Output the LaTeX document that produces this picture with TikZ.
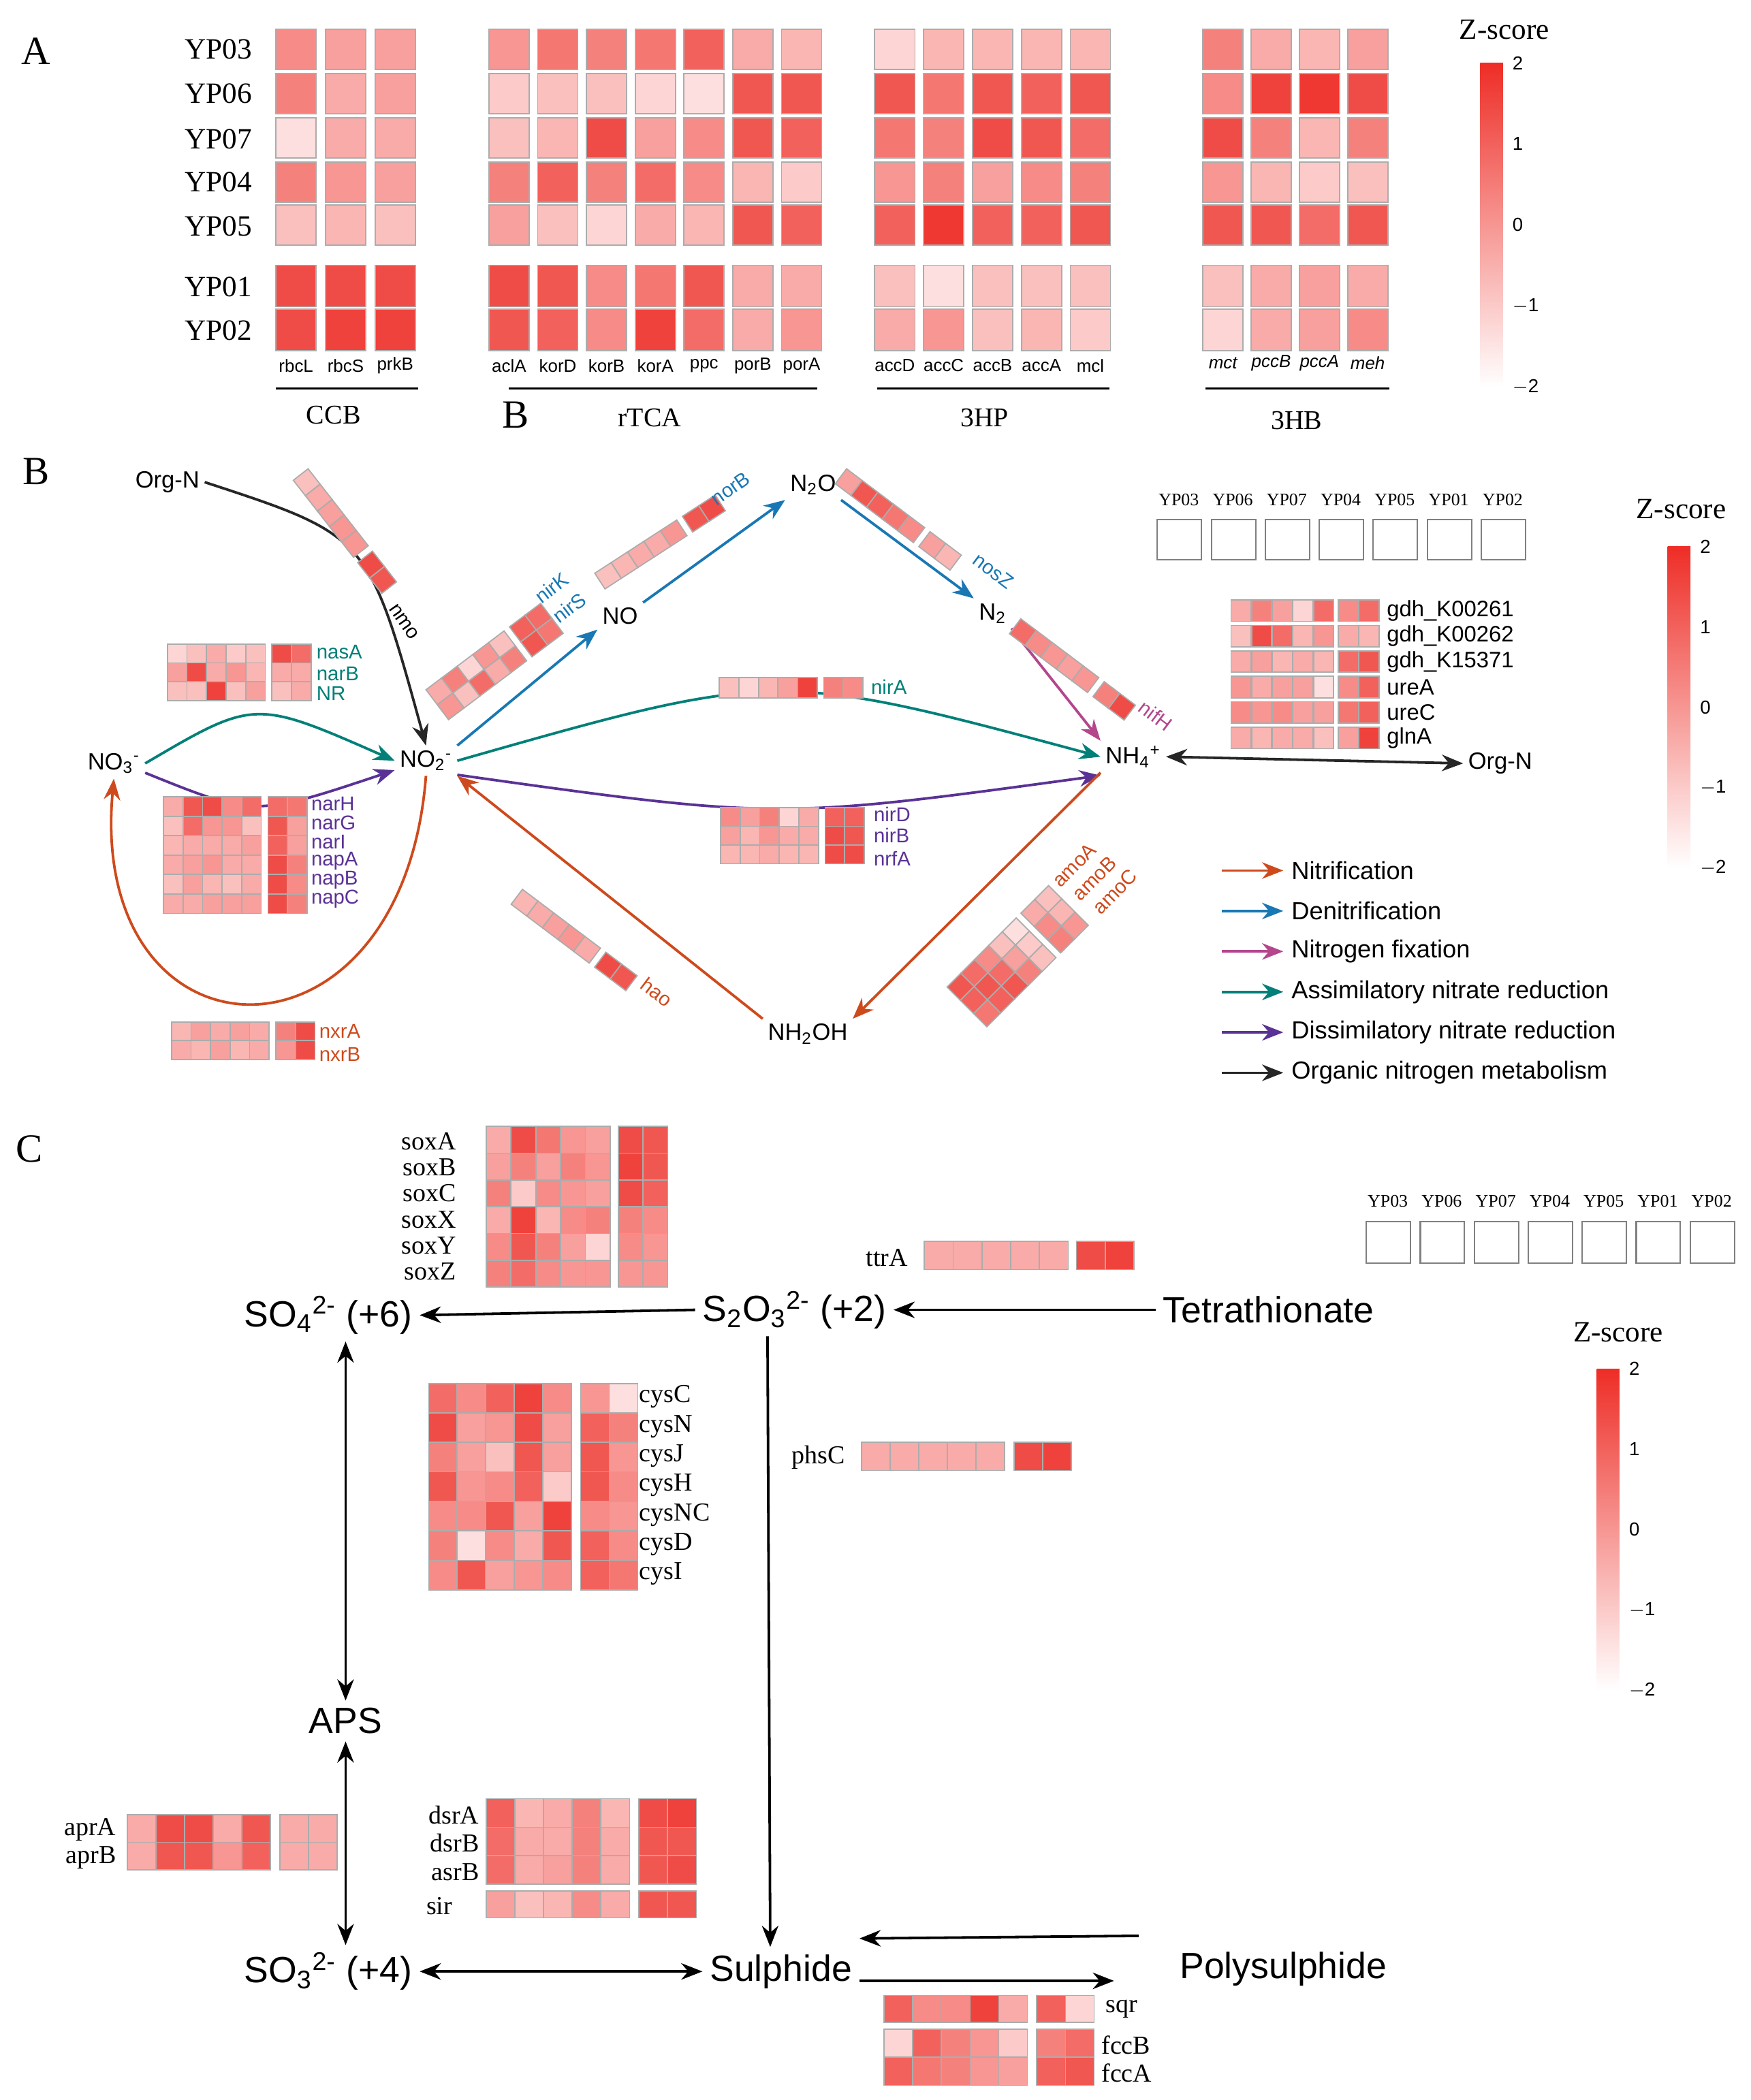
\documentclass[tikz,border=0pt]{standalone}
\usepackage{fontspec}
\setmainfont{Liberation Serif}
\setsansfont{Liberation Sans}
\usetikzlibrary{arrows.meta}
\definecolor{hr}{RGB}{238,45,38}
\definecolor{cor}{RGB}{206,74,28}
\definecolor{cbl}{RGB}{25,120,180}
\definecolor{cmg}{RGB}{180,70,140}
\definecolor{ctl}{RGB}{0,128,120}
\definecolor{cpu}{RGB}{90,50,150}
\newcommand\fs[1]{\fontsize{#1}{#1}\selectfont}
% x y pitch cw ch gap {vals}
\newcommand\hmrow[7]{%
 \foreach \v [count=\i] in {#7} {
   \pgfmathsetmacro\xx{#1+(\i-1)*#3+(\i>5)*#6}
   \fill[hr!\v!white] (\xx,-#2) rectangle ++(#4,-#5);
   \draw[gray!65,line width=0.5pt] (\xx,-#2) rectangle ++(#4,-#5);}}
\newcommand\cbar[3]{% x ytop ybottom
 \shade[bottom color=white,top color=hr] (#1,-#2) rectangle (#1+17,-#3);
 \pgfmathsetmacro\dd{(#3-#2)/4}
 \foreach \t [count=\k from 0] in {2,1,0,$-$1,$-$2}
   \node[anchor=west,font=\sffamily\fs{8}] at (#1+18,-#2-\k*\dd) {\t};}
\begin{document}
\begin{tikzpicture}[x=0.02cm,y=0.02cm,
  arr/.style={line width=1.1pt,-{Stealth[length=9pt,width=7pt]}},
  darr/.style={line width=1.1pt,{Stealth[length=9pt,width=7pt]}-{Stealth[length=9pt,width=7pt]}},
  rowl/.style={font=\fs{12.5}},
  gA/.style={font=\sffamily\fs{7.5}},
  grp/.style={font=\fs{11.5}},
  let/.style={font=\fs{17}},
  nb/.style={font=\sffamily\fs{10},inner sep=2pt},
  gb/.style={font=\sffamily\fs{8.5},anchor=west,inner sep=0pt},
  nc/.style={font=\sffamily\fs{15.5},inner sep=3pt},
  gc/.style={font=\fs{11},inner sep=0pt},
  zs/.style={font=\fs{12.5}},
  ll/.style={font=\sffamily\fs{10.5},anchor=west}]
\useasboundingbox (0,0) rectangle (1307,-1568);
% ================= Panel A
\node[let] at (27,-38) {A};
\node[let] at (385,-310) {B};
\foreach \n/\y in {YP03/37,YP06/70,YP07/104,YP04/136,YP05/169,YP01/214,YP02/247}
  \node[rowl] at (163,-\y) {\n};
% CCB
\hmrow{206}{22}{37}{30}{30}{0}{55,45,45}
\hmrow{206}{55}{37}{30}{30}{0}{60,40,45}
\hmrow{206}{88}{37}{30}{30}{0}{15,40,40}
\hmrow{206}{121}{37}{30}{30}{0}{60,50,45}
\hmrow{206}{153}{37}{30}{30}{0}{30,35,30}
\hmrow{206}{198}{37}{30}{31}{0}{85,85,85}
\hmrow{206}{231}{37}{30}{31}{0}{85,90,90}
% rTCA
\hmrow{365}{22}{36.4}{30}{30}{0}{50,65,60,65,75,40,35}
\hmrow{365}{55}{36.4}{30}{30}{0}{25,30,30,20,15,80,80}
\hmrow{365}{88}{36.4}{30}{30}{0}{30,35,85,45,55,80,75}
\hmrow{365}{121}{36.4}{30}{30}{0}{60,75,60,70,55,35,25}
\hmrow{365}{153}{36.4}{30}{30}{0}{45,30,20,40,35,80,75}
\hmrow{365}{198}{36.4}{30}{31}{0}{85,80,55,65,80,40,40}
\hmrow{365}{231}{36.4}{30}{31}{0}{80,75,55,90,70,40,50}
% 3HP
\hmrow{653}{22}{36.5}{30}{30}{0}{20,35,35,35,35}
\hmrow{653}{55}{36.5}{30}{30}{0}{80,65,80,75,80}
\hmrow{653}{88}{36.5}{30}{30}{0}{65,60,85,80,70}
\hmrow{653}{121}{36.5}{30}{30}{0}{50,60,45,55,60}
\hmrow{653}{153}{36.5}{30}{30}{0}{75,95,75,75,80}
\hmrow{653}{198}{36.5}{30}{31}{0}{30,15,30,30,30}
\hmrow{653}{231}{36.5}{30}{31}{0}{40,50,30,35,25}
% 3HB
\hmrow{898}{22}{36}{30}{30}{0}{60,40,35,45}
\hmrow{898}{55}{36}{30}{30}{0}{55,90,95,85}
\hmrow{898}{88}{36}{30}{30}{0}{85,60,35,60}
\hmrow{898}{121}{36}{30}{30}{0}{50,35,25,30}
\hmrow{898}{153}{36}{30}{30}{0}{80,80,70,80}
\hmrow{898}{198}{36}{30}{31}{0}{30,40,45,40}
\hmrow{898}{231}{36}{30}{31}{0}{20,40,45,55}
\foreach \g [count=\i from 0] in {rbcL,rbcS,prkB} \node[gA] at (221+\i*37,-273) {\g};
\foreach \g [count=\i from 0] in {aclA,korD,korB,korA,ppc,porB,porA} \node[gA] at (380+\i*36.4,-273) {\g};
\foreach \g [count=\i from 0] in {accD,accC,accB,accA,mcl} \node[gA] at (668+\i*36.5,-273) {\g};
\foreach \g [count=\i from 0] in {mct,pccB,pccA,meh} \node[gA,font=\sffamily\itshape\fs{7.5}] at (913+\i*36,-271) {\g};
\draw[line width=0.9pt] (206,-290) -- (312,-290) (380,-290) -- (610,-290) (655,-290) -- (828,-290) (900,-290) -- (1037,-290);
\node[grp] at (249,-310) {CCB};
\node[grp] at (485,-312) {rTCA};
\node[grp] at (735,-312) {3HP};
\node[grp] at (968,-314) {3HB};
\node[zs] at (1123,-22) {Z-score};
\cbar{1105}{47}{289}
% ================= Panel B
\node[let] at (27,-352) {B};
\node[nb] (orgn) at (125,-360) {Org-N};
\node[nb] (no3) at (85,-570) {NO\textsubscript{3}\textsuperscript{-}};
\node[nb] (no2) at (318,-568) {NO\textsubscript{2}\textsuperscript{-}};
\node[nb] (no) at (463,-460) {NO};
\node[nb] (n2o) at (607,-362) {N\textsubscript{2}O};
\node[nb] (n2) at (741,-458) {N\textsubscript{2}};
\node[nb] (nh4) at (846,-565) {NH\textsubscript{4}\textsuperscript{+}};
\node[nb] (nh2oh) at (603,-772) {NH\textsubscript{2}OH};
\node[nb] (orgn2) at (1120,-570) {Org-N};
\draw[arr,black!85] (orgn.east) .. controls (275,-400) .. (no2.north);
\draw[arr,ctl] (no3.east) .. controls (190,-522) .. (no2.west);
\draw[arr,cpu] ([yshift=-4]no3.east) .. controls (190,-610) .. ([yshift=-4]no2.west);
\draw[arr,cbl] (no2.north east) -- (no.south west);
\draw[arr,cbl] (no.north east) -- (n2o.south west);
\draw[arr,cbl] (n2o.south east) -- (n2.north west);
\draw[arr,cmg] (n2.south east) -- (nh4.north west);
\draw[arr,ctl] (no2.east) .. controls (580,-500) .. (nh4.west);
\draw[arr,cpu] ([yshift=-6]no2.east) .. controls (580,-612) .. ([yshift=-8]nh4.west);
\draw[arr,cor] (nh4.south west) -- (nh2oh.north east);
\draw[arr,cor] (nh2oh.north west) -- (no2.south east);
\draw[arr,cor] (no2.south) .. controls (300,-810) and (65,-800) .. (no3.south);
\draw[darr,black!85] (nh4.east) -- (orgn2.west);
% B heatmaps
\hmrow{125}{481}{14.6}{14.6}{14}{5}{20,30,40,25,30,85,70}
\hmrow{125}{495}{14.6}{14.6}{14}{5}{45,85,40,50,35,40,40}
\hmrow{125}{509}{14.6}{14.6}{14}{5}{30,30,90,30,45,30,40}
\node[gb,ctl] at (236,-487) {nasA};
\node[gb,ctl] at (236,-503) {narB};
\node[gb,ctl] at (236,-518) {NR};
\hmrow{122}{595}{14.6}{14.6}{14.5}{5}{40,80,85,55,70,70,65}
\hmrow{122}{609.5}{14.6}{14.6}{14.5}{5}{30,70,50,50,30,80,45}
\hmrow{122}{624}{14.6}{14.6}{14.5}{5}{35,40,40,40,45,75,45}
\hmrow{122}{638.5}{14.6}{14.6}{14.5}{5}{40,45,50,40,40,85,60}
\hmrow{122}{653}{14.6}{14.6}{14.5}{5}{30,45,35,30,40,85,55}
\hmrow{122}{667.5}{14.6}{14.6}{14.5}{5}{40,40,45,45,45,85,60}
\foreach \g [count=\i from 0] in {narH,narG,narI,napA,napB,napC}
  \node[gb,cpu] at (232,-600-\i*14.3) {\g};
\hmrow{128}{763}{14.6}{14.6}{14}{5}{35,45,40,45,40,60,85}
\hmrow{128}{777}{14.6}{14.6}{14}{5}{40,35,45,35,40,50,85}
\node[gb,cor] at (238,-770) {nxrA};
\node[gb,cor] at (238,-787) {nxrB};
\hmrow{537}{506}{14.6}{14.6}{15}{5}{30,20,35,45,90,60,55}
\node[gb,ctl] at (650,-513) {nirA};
\hmrow{538}{603}{14.6}{14.6}{14}{5}{55,45,60,20,40,75,75}
\hmrow{538}{617}{14.6}{14.6}{14}{5}{45,35,50,40,40,85,80}
\hmrow{538}{631}{14.6}{14.6}{14}{5}{35,35,40,35,35,85,85}
\node[gb,cpu] at (652,-608) {nirD};
\node[gb,cpu] at (652,-624) {nirB};
\node[gb,cpu] at (652,-641) {nrfA};
% rotated strips
\begin{scope}[shift={(230,-350)},rotate=-52]
\hmrow{0}{0}{14.6}{14.6}{14}{5}{30,40,45,50,50,85,80}
\end{scope}
\node[gb,rotate=-55,black] at (293,-452) {nmo};
\begin{scope}[shift={(318,-515)},rotate=37]
\hmrow{0}{0}{14.6}{14.6}{14}{5}{40,60,20,50,30,75,70}
\hmrow{0}{14}{14.6}{14.6}{14}{5}{50,30,70,40,60,80,65}
\end{scope}
\node[gb,rotate=37,cbl] at (401,-447) {nirK};
\node[gb,rotate=37,cbl] at (414,-462) {nirS};
\begin{scope}[shift={(444,-428)},rotate=33]
\hmrow{0}{0}{14.6}{14.6}{14}{5}{30,35,40,40,50,80,85}
\end{scope}
\node[gb,rotate=35,cbl] at (532,-374) {norB};
\begin{scope}[shift={(632,-350)},rotate=-37]
\hmrow{0}{0}{14.6}{14.6}{14}{5}{45,80,75,65,55,45,35}
\end{scope}
\node[gb,rotate=-37,cbl] at (728,-416) {nosZ};
\begin{scope}[shift={(762,-462)},rotate=-37]
\hmrow{0}{0}{14.6}{14.6}{14}{5}{70,55,50,45,50,60,85}
\end{scope}
\node[gb,rotate=-37,cmg] at (852,-526) {nifH};
\begin{scope}[shift={(390,-664)},rotate=-37]
\hmrow{0}{0}{14.6}{14.6}{14}{5}{35,40,45,50,40,85,80}
\end{scope}
\node[gb,rotate=-37,cor] at (480,-733) {hao};
\begin{scope}[shift={(707,-737)},rotate=45]
\hmrow{0}{0}{14.6}{14.6}{14}{5}{80,70,55,30,15,40,30}
\hmrow{0}{14}{14.6}{14.6}{14}{5}{75,80,70,45,25,55,35}
\hmrow{0}{28}{14.6}{14.6}{14}{5}{65,75,80,60,30,60,50}
\end{scope}
\node[gb,rotate=45,cor] at (788,-660) {amoA};
\node[gb,rotate=45,cor] at (803,-670) {amoB};
\node[gb,rotate=45,cor] at (818,-680) {amoC};
% B legend
\foreach \g [count=\i from 0] in {YP03,YP06,YP07,YP04,YP05,YP01,YP02} {
  \node[font=\fs{7.5}] at (880+\i*40.3,-373) {\g};
  \draw[gray,line width=0.6pt] (864+\i*40.3,-388) rectangle ++(33,-30);}
\hmrow{919}{448}{15.4}{15}{16}{3}{40,60,45,20,70,55,70}
\hmrow{919}{467}{15.4}{15}{16}{3}{30,85,70,35,50,40,35}
\hmrow{919}{486}{15.4}{15}{16}{3}{40,45,35,40,35,70,80}
\hmrow{919}{505}{15.4}{15}{16}{3}{50,40,45,45,15,55,75}
\hmrow{919}{524}{15.4}{15}{16}{3}{55,50,55,45,45,65,75}
\hmrow{919}{543}{15.4}{15}{16}{3}{40,35,40,40,30,45,90}
\foreach \g [count=\i from 0] in {gdh\_K00261,gdh\_K00262,gdh\_K15371,ureA,ureC,glnA}
  \node[gb,font=\sffamily\fs{9.5}] at (1035,-456-\i*19) {\g};
\node[zs] at (1255,-380) {Z-score};
\cbar{1245}{408}{648}
\foreach \c/\t [count=\i from 0] in {cor/Nitrification,cbl/Denitrification,cmg/Nitrogen fixation,ctl/Assimilatory nitrate reduction,cpu/Dissimilatory nitrate reduction,black!85/Organic nitrogen metabolism} {
  \node[ll] (lt\i) at (958,-650-\i*30.2) {\t};
  \coordinate (la\i) at (912,-650-\i*30.2);
  \draw[arr,\c] (la\i) -- (lt\i.west);}
% ================= Panel C
\node[let] at (22,-858) {C};
\node[nc] (so4) at (245,-982) {SO\textsubscript{4}\textsuperscript{2-} (+6)};
\node[nc] (s2o3) at (593,-978) {S\textsubscript{2}O\textsubscript{3}\textsuperscript{2-} (+2)};
\node[nc] (tet) at (947,-978) {Tetrathionate};
\node[nc] (aps) at (258,-1285) {APS};
\node[nc] (so3) at (245,-1472) {SO\textsubscript{3}\textsuperscript{2-} (+4)};
\node[nc] (sul) at (583,-1472) {Sulphide};
\node[nc] (poly) at (958,-1470) {Polysulphide};
\draw[arr] (s2o3.west) -- (so4.east);
\draw[arr] (tet.west) -- (s2o3.east);
\draw[darr] (so4.south -| aps) -- (aps.north);
\draw[darr] (aps.south) -- (so3.north -| aps);
\draw[darr] (so3.east) -- (sul.west);
\draw[arr] (s2o3.south -| 573,0) -- (sul.north -| 575,0);
\draw[arr] ([yshift=14]poly.west) ++(-25,0) -- ([yshift=14]sul.east);
\draw[arr] ([yshift=-4]sul.east) -- ++(190,0);
% C heatmaps
\hmrow{363}{841}{18.5}{18.5}{20}{6}{40,85,65,50,45,85,80}
\hmrow{363}{861}{18.5}{18.5}{20}{6}{45,60,45,60,50,90,80}
\hmrow{363}{881}{18.5}{18.5}{20}{6}{60,25,55,50,45,85,75}
\hmrow{363}{901}{18.5}{18.5}{20}{6}{40,90,35,55,60,60,55}
\hmrow{363}{921}{18.5}{18.5}{20}{6}{55,80,60,45,20,55,50}
\hmrow{363}{941}{18.5}{18.5}{20}{6}{60,70,55,50,50,50,50}
\foreach \g [count=\i from 0] in {soxA,soxB,soxC,soxX,soxY,soxZ}
  \node[gc,anchor=east] at (341,-852-\i*19.5) {\g};
\hmrow{690}{927}{21.5}{21.5}{21}{6}{40,40,40,40,40,85,90}
\node[gc,anchor=east] at (678,-939) {ttrA};
\hmrow{320}{1033}{21.3}{21.3}{22}{7}{70,55,75,90,55,50,15}
\hmrow{320}{1055}{21.3}{21.3}{22}{7}{85,45,50,85,45,75,60}
\hmrow{320}{1077}{21.3}{21.3}{22}{7}{60,45,30,80,45,80,50}
\hmrow{320}{1099}{21.3}{21.3}{22}{7}{80,50,55,75,25,80,55}
\hmrow{320}{1121}{21.3}{21.3}{22}{7}{55,55,80,45,90,55,50}
\hmrow{320}{1143}{21.3}{21.3}{22}{7}{60,15,55,40,80,75,55}
\hmrow{320}{1165}{21.3}{21.3}{22}{7}{55,80,45,50,55,75,65}
\foreach \g [count=\i from 0] in {cysC,cysN,cysJ,cysH,cysNC,cysD,cysI}
  \node[gc,anchor=west] at (477,-1043-\i*22) {\g};
\hmrow{643}{1077}{21.4}{21.4}{21}{7}{40,40,40,40,40,85,90}
\node[gc,anchor=east] at (631,-1088) {phsC};
\hmrow{95}{1355}{21.4}{21.4}{20.5}{7}{40,85,85,40,80,40,40}
\hmrow{95}{1375.5}{21.4}{21.4}{20.5}{7}{40,80,80,50,75,40,40}
\node[gc,anchor=east] at (87,-1366) {aprA};
\node[gc,anchor=east] at (87,-1387) {aprB};
\hmrow{363}{1343}{21.4}{21.4}{21.3}{7}{75,35,40,60,35,85,90}
\hmrow{363}{1364.3}{21.4}{21.4}{21.3}{7}{70,40,40,60,40,80,80}
\hmrow{363}{1385.6}{21.4}{21.4}{21.3}{7}{70,40,45,60,40,80,85}
\hmrow{363}{1412}{21.4}{21.4}{20}{7}{45,30,35,55,40,80,80}
\foreach \g [count=\i from 0] in {dsrA,dsrB,asrB}
  \node[gc,anchor=east] at (358,-1355-\i*21.3) {\g};
\node[gc,anchor=east] at (338,-1423) {sir};
\hmrow{660}{1490}{21.4}{21.4}{20}{7}{75,55,55,90,40,75,20}
\hmrow{660}{1515}{21.4}{21.4}{21}{7}{20,75,60,50,25,60,70}
\hmrow{660}{1536}{21.4}{21.4}{21}{7}{75,65,60,50,45,75,80}
\node[gc,anchor=west] at (825,-1500) {sqr};
\node[gc,anchor=west] at (822,-1527) {fccB};
\node[gc,anchor=west] at (822,-1548) {fccA};
\foreach \g [count=\i from 0] in {YP03,YP06,YP07,YP04,YP05,YP01,YP02} {
  \node[font=\fs{7.5}] at (1036+\i*40.3,-897) {\g};
  \draw[gray,line width=0.6pt] (1020+\i*40.3,-912) rectangle ++(33,-31);}
\node[zs] at (1208,-995) {Z-score};
\cbar{1192}{1022}{1262}
\end{tikzpicture}
\end{document}
